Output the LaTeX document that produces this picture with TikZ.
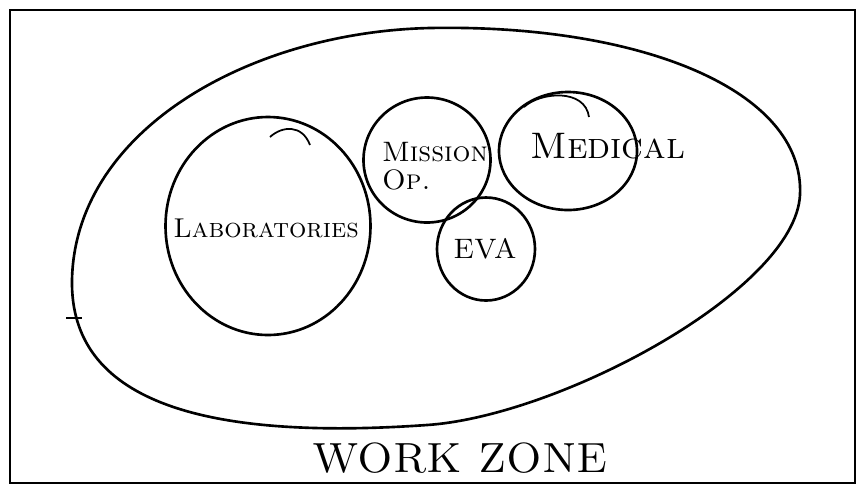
\documentclass[tikz,border=0pt]{standalone}
\usetikzlibrary{shapes.geometric}

\begin{document}
\begin{tikzpicture}[x=0.2mm, y=-0.2mm, line width=1.5pt,
    area/.style={draw, ellipse, inner sep=0pt},
    hand/.style={font=\fontsize{#1}{#1}\selectfont\scshape}]
        \useasboundingbox (0,0) rectangle (857,485);
        \draw[line width=1pt] (10,10) rectangle (855,483);

        % Outer boundary: the work zone
        \draw (430,28) .. controls (640,24) and (805,90) .. (800,195)
              .. controls (795,290) and (560,416) .. (427,425)
              .. controls (200,441) and (70,400) .. (72,280)
              .. controls (75,130) and (250,32) .. cycle;
        \draw[line width=1pt] (66,318) -- (82,318);

        % Areas inside the zone
        \node[area, minimum width=41mm, minimum height=43.6mm] at (268,226) (lab) {};
        \node[area, minimum width=25.4mm, minimum height=25mm] at (427,160) (mission) {};
        \node[area, minimum width=27.6mm, minimum height=23.6mm] at (568,151) (medical) {};
        \node[area, minimum width=19.6mm, minimum height=20.6mm] at (486,249) (eva) {};

        \draw[line width=1pt] (270,137) .. controls (282,126) and (302,124) .. (310,145);
        \draw[line width=1pt] (524,107) .. controls (540,92) and (585,88) .. (589,117);

        % Labels
        \node[hand=15.5] at (266,228) (labtext) {Laboratories};
        \node[hand=16, align=left] at (435,166) (missiontext) {Mission\\Op.};
        \node[hand=21] at (608,146) (medicaltext) {Medical};
        \node[hand=16] at (485,249) (evatext) {EVA};
        \node[hand=24] at (460,458) (zonetext) {WORK ZONE};
\end{tikzpicture}
\end{document}
